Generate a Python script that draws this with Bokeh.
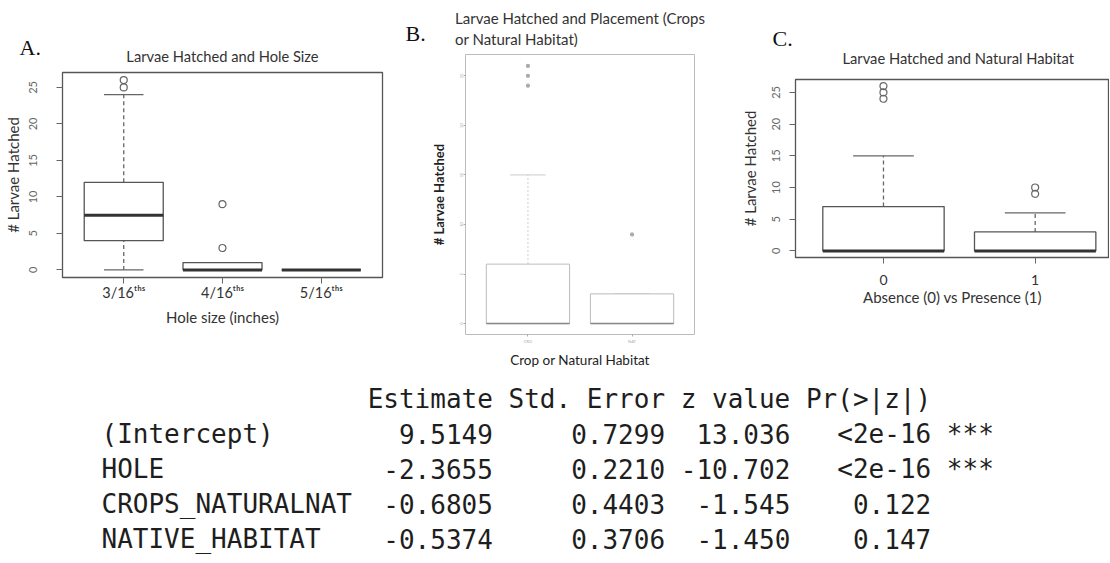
from bokeh.plotting import figure
from bokeh.layouts import row, column
from bokeh.models import Range1d, FixedTicker, Title, ColumnDataSource
from bokeh.transform import dodge
from bokeh.embed import file_html
from bokeh.resources import INLINE
from bokeh.core.properties import value

# ---------------- data ----------------
y_ticks = [0, 5, 10, 15, 20, 25]

# Panel A: Larvae hatched by hole size
a_labels = ["3/16ᵗʰˢ", "4/16ᵗʰˢ", "5/16ᵗʰˢ"]
a_lower = [0, 0, 0]
a_q1 = [4, 0, 0]
a_median = [7.5, 0, 0]
a_q3 = [12, 1, 0]
a_upper = [24, 1, 0]
a_out_group = [1, 1, 2, 2]
a_out_value = [25, 26, 3, 9]

# Panel B: placement (crops / natural habitat)
b_labels = ["CRO", "NAT"]
b_lower = [0, 0]
b_q1 = [0, 0]
b_median = [0, 0]
b_q3 = [6, 3]
b_upper = [15, 3]
b_out_group = [1, 1, 1, 2]
b_out_value = [24, 25, 26, 9]

# Panel C: natural habitat absence / presence
c_labels = ["0", "1"]
c_lower = [0, 0]
c_q1 = [0, 0]
c_median = [0, 0]
c_q3 = [7, 3]
c_upper = [15, 6]
c_out_group = [1, 1, 1, 2, 2]
c_out_value = [24, 25, 26, 9, 10]

# Coefficient table
col_headers = ["Estimate", "Std. Error", "z value", "Pr(>|z|)"]
row_names = ["(Intercept)", "HOLE", "CROPS_NATURALNAT", "NATIVE_HABITAT"]
estimate = ["9.5149", "-2.3655", "-0.6805", "-0.5374"]
std_error = ["0.7299", "0.2210", "0.4403", "0.3706"]
z_value = ["13.036", "-10.702", "-1.545", "-1.450"]
p_value = ["<2e-16", "<2e-16", "0.122", "0.147"]
signif = ["***", "***", "", ""]

SANS = "Lato"
TOP_H = 370


def make_fig(w, h, xr, yr, bl, br, bt, bb):
    p = figure(width=w, height=h, x_range=Range1d(*xr), y_range=Range1d(*yr),
               title=None, output_backend="svg", toolbar_location=None,
               min_border_left=bl, min_border_right=br,
               min_border_top=bt, min_border_bottom=bb,
               background_fill_color="white", border_fill_color="white")
    p.xgrid.visible = False
    p.ygrid.visible = False
    return p


def add_title(p, text, align, offset, standoff, size="14.7px", line_height=1.2):
    p.add_layout(Title(text=text, align=align, offset=offset, standoff=standoff,
                       text_font=SANS, text_font_size=size, text_font_style="normal",
                       text_color="#333333", text_line_height=line_height), "above")


def add_letter(p, text, offset, standoff):
    p.add_layout(Title(text=text, align="left", offset=offset, standoff=standoff,
                       text_font="Liberation Serif", text_font_size="22px",
                       text_font_style="normal", text_color="#111111"), "above")


def style_axes(p, labels, xlabel, ylabel, color, tick_len, tick_font, xtick_font,
               lab_font, lab_style, lab_color, ystand, ylstand, xstand, xlstand):
    n = len(labels)
    p.xaxis.ticker = FixedTicker(ticks=list(range(1, n + 1)))
    p.xaxis.major_label_overrides = {i + 1: lab for i, lab in enumerate(labels)}
    p.yaxis.ticker = FixedTicker(ticks=y_ticks)
    p.yaxis.major_label_orientation = "vertical"
    for ax in (p.xaxis, p.yaxis):
        ax.axis_line_color = None
        ax.major_tick_line_color = color
        ax.minor_tick_line_color = None
        ax.major_tick_in = 0
        ax.major_tick_out = tick_len
        ax.major_label_text_font = SANS
        ax.major_label_text_color = color
        ax.axis_label_text_font = SANS
        ax.axis_label_text_font_size = lab_font
        ax.axis_label_text_font_style = lab_style
        ax.axis_label_text_color = lab_color
    p.yaxis.major_label_text_font_size = tick_font
    p.xaxis.major_label_text_font_size = xtick_font
    p.xaxis.axis_label = xlabel
    p.yaxis.axis_label = ylabel
    p.yaxis.major_label_standoff = ystand
    p.yaxis.axis_label_standoff = ylstand
    p.xaxis.major_label_standoff = xstand
    p.xaxis.axis_label_standoff = xlstand


def draw_boxes(p, lower, q1, med, q3, upper, og, ov, box_w, cap_w,
               box_color, box_lw, med_color, med_lw, wcolor, wdash, wlw,
               out_size, out_fill, out_line):
    xs = list(range(1, len(q1) + 1))
    src = ColumnDataSource(dict(x=xs, lower=lower, q1=q1, med=med, q3=q3, upper=upper))
    p.segment(x0="x", y0="q3", x1="x", y1="upper", source=src,
              line_color=wcolor, line_dash=wdash, line_width=wlw)
    p.segment(x0="x", y0="lower", x1="x", y1="q1", source=src,
              line_color=wcolor, line_dash=wdash, line_width=wlw)
    for key in ("upper", "lower"):
        p.segment(x0=dodge("x", -cap_w / 2), x1=dodge("x", cap_w / 2), y0=key, y1=key,
                  source=src, line_color=wcolor, line_width=wlw)
    p.vbar(x="x", width=box_w, top="q3", bottom="q1", source=src,
           fill_color="white", line_color=box_color, line_width=box_lw)
    p.segment(x0=dodge("x", -box_w / 2), x1=dodge("x", box_w / 2), y0="med", y1="med",
              source=src, line_color=med_color, line_width=med_lw)
    p.scatter(x=og, y=ov, marker="circle", size=out_size,
              fill_color=out_fill, line_color=out_line, line_width=1.2)


# ---------------- Panel A ----------------
pa = make_fig(385, TOP_H, (0.38, 3.62), (-1.04, 27.04), 57, 3, 72, 93)
pa.outline_line_color = "#555555"
pa.outline_line_width = 1.3
add_title(pa, "Larvae Hatched and Hole Size", "center", 0, 16)
add_letter(pa, "A.", -43, -47)
style_axes(pa, a_labels, "Hole size (inches)", "# Larvae Hatched", "#666666", 6,
           "11px", "14.5px", "15px", "normal", "#333333", 19, 5, 0, 4)
pa.xaxis.major_label_text_color = "#333333"
draw_boxes(pa, a_lower, a_q1, a_median, a_q3, a_upper, a_out_group, a_out_value,
           0.8, 0.4, "#555555", 1.3, "#333333", 3, "#666666", "4 3", 1.3,
           7, None, "#666666")

# ---------------- Panel B ----------------
pb = make_fig(320, TOP_H, (0.4, 2.6), (-1.1, 27.15), 80, 11, 53, 32)
pb.outline_line_color = "#bbbbbb"
pb.outline_line_width = 1
add_title(pb, "Larvae Hatched and Placement (Crops\nor Natural Habitat)", "center", 0, 13,
          size="15px", line_height=1.15)
add_letter(pb, "B.", -60, -90)
style_axes(pb, b_labels, "Crop or Natural Habitat", "# Larvae Hatched", "#aaaaaa", 2,
           "4px", "4px", "13.5px", "normal", "#222222", 0, 11, 2, 5)
pb.yaxis.axis_label_text_font_style = "bold"
pb.yaxis.axis_label_text_font_size = "13px"
draw_boxes(pb, b_lower, b_q1, b_median, b_q3, b_upper, b_out_group, b_out_value,
           0.8, 0.34, "#bbbbbb", 1, "#888888", 1.5, "#cccccc", "2 2", 1,
           3, "#aaaaaa", "#aaaaaa")

# ---------------- Panel C ----------------
pc = make_fig(404, TOP_H, (0.42, 2.49), (-1.04, 27.04), 90, 0, 79, 113)
pc.outline_line_color = "#555555"
pc.outline_line_width = 1.3
add_title(pc, "Larvae Hatched and Natural Habitat", "left", 47, 26)
add_letter(pc, "C.", -23, -35)
style_axes(pc, c_labels, "Absence (0) vs Presence (1)", "# Larvae Hatched", "#666666", 6,
           "11px", "14px", "15px", "normal", "#333333", 9, 11, 11, 0)
pc.xaxis.major_label_text_color = "#333333"
draw_boxes(pc, c_lower, c_q1, c_median, c_q3, c_upper, c_out_group, c_out_value,
           0.8, 0.4, "#555555", 1.3, "#333333", 3, "#666666", "4 3", 1.3,
           7, None, "#666666")

# ---------------- Table ----------------
TW, TH = 1109, 190
pt = figure(width=TW, height=TH, x_range=Range1d(0, TW), y_range=Range1d(TH, 0),
            title=None, output_backend="svg", toolbar_location=None,
            x_axis_location=None, y_axis_location=None,
            min_border=0, min_border_left=0, min_border_right=0,
            min_border_top=0, min_border_bottom=0)
pt.outline_line_color = None
pt.xgrid.visible = False
pt.ygrid.visible = False

MONO = "DejaVu Sans Mono"
FS = 26
CW = 0.6021 * FS          # monospace cell width
X0 = 101                  # left of first cell
name_w = max(len(s) for s in row_names)
col_w = [max(len(h), max(len(v) for v in col)) for h, col in
         zip(col_headers, [estimate, std_error, z_value, p_value])]
ends = []
pos = name_w
for w in col_w:
    pos += 1 + w
    ends.append(pos)

head_y = 28
row_y = [63, 98, 133, 168]
tkw = dict(text_font=value(MONO), text_font_size=f"{FS}px", text_color="#1e1e1e",
           text_baseline="alphabetic")

pt.text(x=[X0 + (name_w + 1) * CW], y=[head_y], text=[" ".join(col_headers)],
        text_align="left", **tkw)
pt.text(x=[X0] * len(row_names), y=row_y, text=row_names, text_align="left", **tkw)
for col, e in zip([estimate, std_error, z_value, p_value], ends):
    pt.text(x=[X0 + e * CW] * len(col), y=row_y, text=col, text_align="right", **tkw)
pt.text(x=[X0 + (ends[-1] + 1) * CW] * len(signif), y=row_y, text=signif,
        text_align="left", **tkw)

layout = column(row(column(pa), column(pb), column(pc), spacing=0), pt, spacing=0)
open("out.html", "w").write(file_html(layout, INLINE))
